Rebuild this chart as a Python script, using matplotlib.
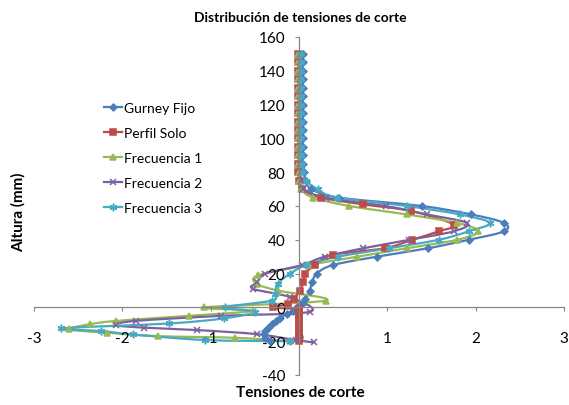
import matplotlib.pyplot as plt
from matplotlib.path import Path
from matplotlib.patches import PathPatch
from matplotlib.ticker import FixedLocator

plt.rcParams["font.family"] = ["Lato", "DejaVu Sans"]
plt.rcParams["axes.unicode_minus"] = False

# Heights shared by all series in the upper (flat) part of the profile
y_top = [150, 145, 140, 135, 130, 125, 120, 115, 110, 105, 100, 95, 90, 85, 80, 75]

# Gurney Fijo
y_gurney = y_top + [70, 65, 60, 55, 50, 45, 40, 35, 30, 25, 20, 15, 10, 5, 2, 0,
                    -2, -4, -6, -8, -10, -12, -14, -16, -18, -20]
x_gurney = [0.04, 0.04, 0.04, 0.04, 0.04, 0.04, 0.04, 0.04, 0.04, 0.04, 0.04, 0.04,
            0.04, 0.04, 0.06, 0.08,
            0.14, 0.45, 1.39, 1.95, 2.32, 2.32, 1.92, 1.46, 0.88, 0.38, 0.2, 0.15,
            0.12, 0.07, 0.03, -0.02, -0.07, -0.14, -0.21, -0.26, -0.31, -0.35,
            -0.38, -0.4, -0.39, -0.33]

# Perfil Solo
y_perfil = y_top + [70, 65, 61, 57, 49, 45, 40, 35, 31, 25, 20, 15, 10, 5, 2, 0,
                    -1, -2, -4, -6, -8, -10, -12, -14, -16, -18, -20]
x_perfil = [-0.01, -0.01, -0.01, -0.01, -0.01, -0.01, -0.01, -0.01, -0.01, -0.01,
            -0.01, -0.01, -0.01, -0.01, -0.01, 0.0,
            0.03, 0.25, 0.72, 1.27, 1.75, 1.58, 1.28, 0.97, 0.38, 0.18, 0.07, 0.05,
            0.01, -0.06, -0.12, -0.3, 0.0, 0.0, 0.0, 0.0, 0.0, 0.0, 0.0, 0.0, 0.0,
            0.0, 0.0]

# Frecuencia 1
y_frec1 = y_top + [70, 65, 60, 55, 50, 45, 40, 35, 30, 25, 19, 14, 10, 4, 0, -2,
                   -5, -8, -10, -13, -15, -17, -18, -20]
x_frec1 = [-0.01, -0.01, -0.01, -0.01, -0.01, -0.01, -0.01, -0.01, -0.01, -0.01,
           -0.01, -0.01, -0.01, -0.01, 0.0, 0.0,
           0.02, 0.16, 0.57, 1.22, 1.79, 2.03, 1.79, 1.22, 0.66, 0.1, -0.46, -0.48,
           -0.24, 0.3, -1.08, -0.52, -1.25, -2.07, -2.37, -2.6, -2.17, -1.6, -0.72,
           -0.1]

# Frecuencia 2
y_frec2 = y_top + [70, 65, 60, 55, 50, 45, 40, 35, 30, 25, 20, 15, 11, 6, -2.6, -5,
                   -8, -10.5, -12, -13.4, -15.8, -19.4, -20.7]
x_frec2 = [0.01, 0.01, 0.01, 0.01, 0.01, 0.01, 0.01, 0.01, 0.01, 0.01, 0.01, 0.01,
           0.01, 0.01, 0.02, 0.02,
           0.05, 0.3, 0.98, 1.45, 1.9, 1.75, 1.25, 0.73, 0.29, 0.03, -0.38, -0.47,
           -0.52, -0.1, 0.12, -0.88, -1.85, -2.07, -1.75, -1.16, -0.48, -0.03, 0.17]

# Frecuencia 3
y_frec3 = y_top + [70, 65, 60, 55, 50, 45, 40, 35, 30, 25, 20, 14, 8, 4, 0, -2.6,
                   -6.5, -9.5, -12.4, -14, -16, -19.3, -20]
x_frec3 = [0.02, 0.02, 0.02, 0.02, 0.02, 0.02, 0.02, 0.02, 0.02, 0.02, 0.02, 0.02,
           0.02, 0.03, 0.05, 0.08,
           0.21, 0.43, 1.22, 1.82, 2.16, 1.92, 1.58, 1.02, 0.44, 0.08, -0.1, -0.24,
           -0.27, -0.31, -0.84, -0.5, -0.85, -1.47, -2.69, -2.24, -1.88, -1.06, -0.1]

x_ticks = [-3, -2, -1, 0, 1, 2, 3]
y_ticks = [-40, -20, 0, 20, 40, 60, 80, 100, 120, 140, 160]


def smooth_path(xs, ys):
    # Excel-style smoothed line: cubic Bezier segments through the data points
    n = len(xs)
    verts = [(xs[0], ys[0])]
    codes = [Path.MOVETO]
    for i in range(n - 1):
        i0 = max(i - 1, 0)
        i3 = min(i + 2, n - 1)
        c1 = (xs[i] + (xs[i + 1] - xs[i0]) / 6, ys[i] + (ys[i + 1] - ys[i0]) / 6)
        c2 = (xs[i + 1] - (xs[i3] - xs[i]) / 6, ys[i + 1] - (ys[i3] - ys[i]) / 6)
        verts += [c1, c2, (xs[i + 1], ys[i + 1])]
        codes += [Path.CURVE4] * 3
    return Path(verts, codes)


fig = plt.figure(figsize=(5.69, 4.06), dpi=100)
ax = fig.add_axes([34 / 569, 1 - 376 / 406, 530 / 569, 338 / 406])

series = [
    (x_gurney, y_gurney, "Gurney Fijo", "#4A7EBB", "D", 3.5),
    (x_perfil, y_perfil, "Perfil Solo", "#BE4B48", "s", 4),
    (x_frec1, y_frec1, "Frecuencia 1", "#98B954", "^", 4.5),
    (x_frec2, y_frec2, "Frecuencia 2", "#7D60A0", "x", 4.5),
    (x_frec3, y_frec3, "Frecuencia 3", "#46AAC5", (6, 2, 0), 5.5),
]
for xs, ys, label, color, marker, ms in series:
    ax.add_patch(PathPatch(smooth_path(xs, ys), facecolor="none",
                           edgecolor=color, lw=1.6))
    ax.plot(xs, ys, ls="none", color=color, marker=marker, ms=ms,
            mec=color, mfc=color, mew=1.1)
    # legend proxy (line with marker)
    ax.plot([], [], color=color, lw=1.6, marker=marker, ms=ms,
            mec=color, mfc=color, mew=1.1, label=label)

ax.set_xlim(-3, 3)
ax.set_ylim(-40, 160)
ax.xaxis.set_major_locator(FixedLocator(x_ticks))
ax.yaxis.set_major_locator(FixedLocator(y_ticks))

for side in ["top", "right"]:
    ax.spines[side].set_visible(False)
ax.spines["left"].set_position(("data", 0))
ax.spines["bottom"].set_position(("data", 0))
for side in ["left", "bottom"]:
    ax.spines[side].set_color("#868686")
    ax.spines[side].set_linewidth(0.9)

ax.tick_params(axis="x", direction="out", length=3, color="#868686",
               pad=14, labelsize=11)
ax.tick_params(axis="y", direction="out", length=3, color="#868686",
               pad=7, labelsize=11)

fig.text(0.527, 1 - 18 / 406, "Distribución de tensiones de corte",
         ha="center", va="center", fontsize=10, fontweight="bold")
fig.text(0.527, 1 - 393 / 406, "Tensiones de corte",
         ha="center", va="center", fontsize=11, fontweight="bold")
fig.text(18 / 569, 1 - 212 / 406, "Altura (mm)", rotation=90,
         ha="center", va="center", fontsize=11, fontweight="bold")

ax.legend(loc="upper left", bbox_to_anchor=(104 / 569, 1 - 103 / 406),
          bbox_transform=fig.transFigure, frameon=False, fontsize=10,
          handlelength=1.3, handletextpad=0.15, labelspacing=0.93,
          borderpad=0, borderaxespad=0)

fig.savefig("out.png", dpi=100)
